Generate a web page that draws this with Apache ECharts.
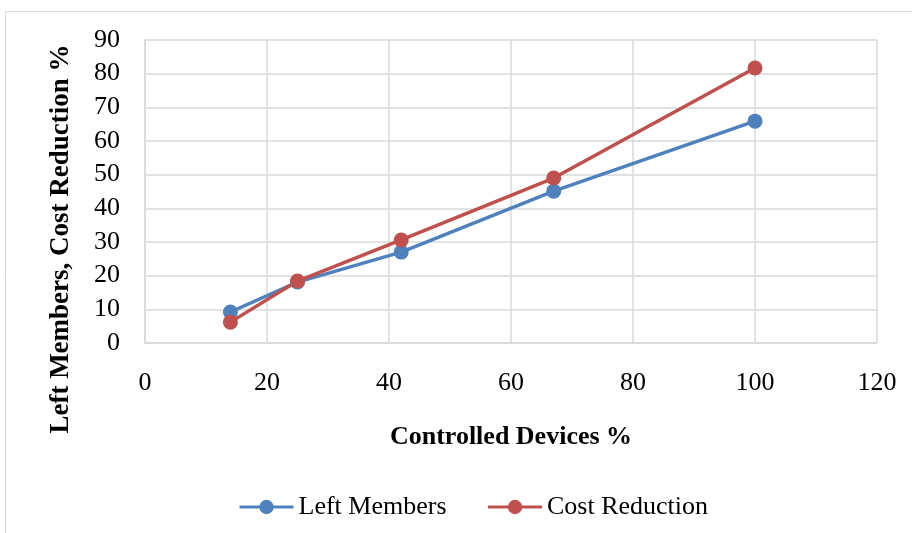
<!DOCTYPE html>
<html><head><meta charset="utf-8">
<script src="https://cdn.jsdelivr.net/npm/echarts@6/dist/echarts.min.js"></script>
<style>html,body{margin:0;padding:0;background:#fff}#c{width:912px;height:533px}</style>
</head><body><div id="c"></div>
<script>
const xValues = [14, 25, 42, 67, 100];
const leftMembers = [9.2, 18.1, 27, 45.1, 65.9];
const costReduction = [6.2, 18.4, 30.6, 49, 81.7];
const seriesNames = ['Left Members', 'Cost Reduction'];
const xTitle = 'Controlled Devices %';
const yTitle = 'Left Members, Cost Reduction %';

const font = '"Liberation Serif", "Times New Roman", serif';
const chart = echarts.init(document.getElementById('c'));
chart.setOption({
  animation: false,
  textStyle: { fontFamily: font },
  graphic: [
    { type: 'rect', shape: { x: 5.5, y: 11.5, width: 940, height: 560 }, style: { fill: 'none', stroke: '#d9d9d9', lineWidth: 1 }, silent: true },
    { type: 'text', x: 61, y: 239, rotation: Math.PI / 2, silent: true,
      style: { text: yTitle, font: 'bold 27px ' + font, fill: '#000', align: 'center', verticalAlign: 'middle' } }
  ],
  grid: { left: 145, right: 35, top: 40, bottom: 190, containLabel: false },
  legend: {
    bottom: 8, left: 233, itemWidth: 54, itemHeight: 18, itemGap: 40,
    textStyle: { fontFamily: font, fontSize: 26, color: '#000' },
    lineStyle: { width: 3 },
    data: seriesNames
  },
  xAxis: {
    type: 'value', min: 0, max: 120, interval: 20,
    name: xTitle, nameLocation: 'middle', nameGap: 81,
    nameTextStyle: { fontFamily: font, fontSize: 26, fontWeight: 'bold', color: '#000' },
    axisLine: { show: true, lineStyle: { color: '#d9d9d9', width: 1.5 } },
    axisTick: { show: false },
    axisLabel: { fontFamily: font, fontSize: 26, color: '#000', margin: 27 },
    splitLine: { show: true, lineStyle: { color: '#d9d9d9', width: 1.5 } }
  },
  yAxis: {
    type: 'value', min: 0, max: 90, interval: 10,
    axisLine: { show: true, lineStyle: { color: '#d9d9d9', width: 1.5 } },
    axisTick: { show: false },
    axisLabel: { fontFamily: font, fontSize: 26, color: '#000', margin: 25 },
    splitLine: { show: true, lineStyle: { color: '#d9d9d9', width: 1.5 } }
  },
  series: [
    { name: seriesNames[0], type: 'line', data: xValues.map((x, i) => [x, leftMembers[i]]),
      symbol: 'circle', symbolSize: 15, color: '#4F81BD', lineStyle: { width: 3.5, color: '#4F81BD' }, itemStyle: { color: '#4F81BD' } },
    { name: seriesNames[1], type: 'line', data: xValues.map((x, i) => [x, costReduction[i]]),
      symbol: 'circle', symbolSize: 15, color: '#C0504D', lineStyle: { width: 3.5, color: '#C0504D' }, itemStyle: { color: '#C0504D' } }
  ]
});
</script></body></html>
